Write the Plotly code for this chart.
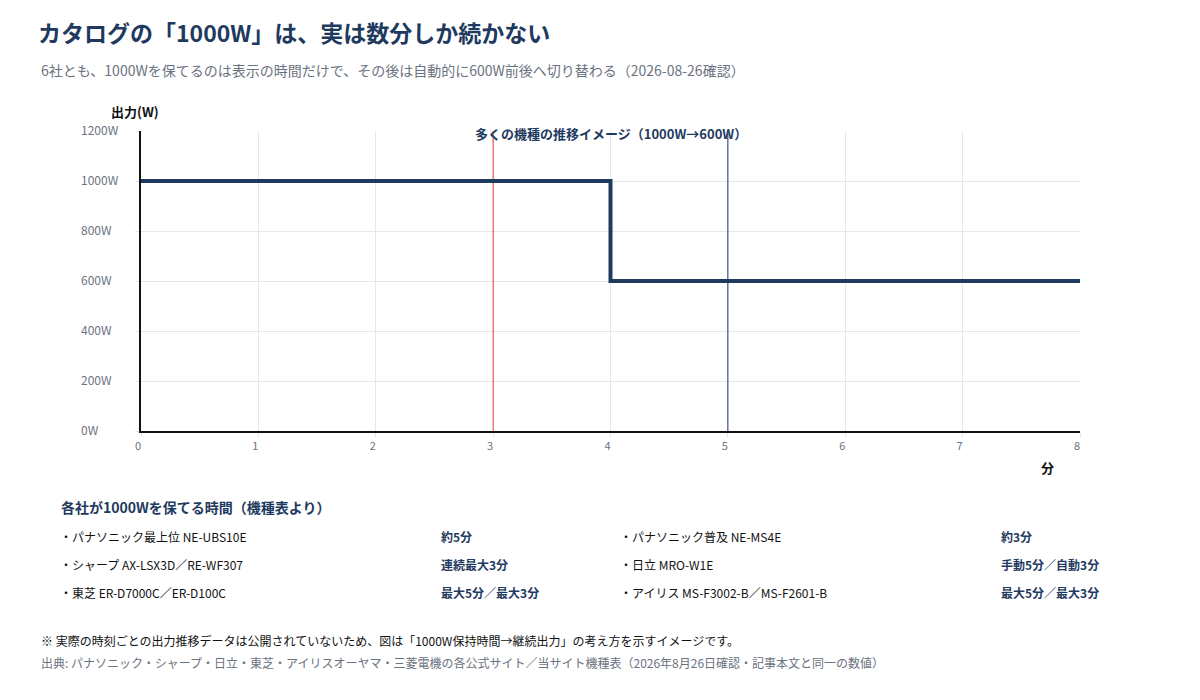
import plotly.graph_objects as go

minutes = [0, 4, 8]
watts = [1000, 600, 600]
marker_minutes = [3, 5]
marker_colors = ["#e5403a", "#1f3a5f"]
y_ticks = [0, 200, 400, 600, 800, 1000, 1200]
y_ticklabels = [f"{v}W" for v in y_ticks]
x_ticks = list(range(0, 9))

left_models = ["パナソニック最上位 NE-UBS10E", "シャープ AX-LSX3D／RE-WF307", "東芝 ER-D7000C／ER-D100C"]
left_times = ["約5分", "連続最大3分", "最大5分／最大3分"]
right_models = ["パナソニック普及 NE-MS4E", "日立 MRO-W1E", "アイリス MS-F3002-B／MS-F2601-B"]
right_times = ["約3分", "手動5分／自動3分", "最大5分／最大3分"]

FONT = "Noto Sans CJK JP"
NAVY = "#1f3a5f"
GREY = "#6b7280"

fig = go.Figure()
for m, c in zip(marker_minutes, marker_colors):
    fig.add_trace(go.Scatter(x=[m, m], y=[0, 1200], mode="lines",
                             line=dict(color=c, width=1), hoverinfo="skip", showlegend=False))
fig.add_trace(go.Scatter(x=minutes, y=watts, mode="lines", line_shape="hv",
                         line=dict(color=NAVY, width=4), showlegend=False))

fig.update_layout(
    width=1200, height=700,
    margin=dict(l=133, r=128, t=123, b=277),
    paper_bgcolor="white", plot_bgcolor="white",
    font=dict(family=FONT, size=12, color="#111"),
    showlegend=False,
)
fig.update_xaxes(range=[0, 8], tickvals=x_ticks, showgrid=True, gridcolor="#e5e7eb",
                 showline=True, linecolor="#111", linewidth=1.5, zeroline=False,
                 ticks="outside", ticklen=4, tickcolor="#e5e7eb", ticklabelshift=-3,
                 tickfont=dict(family=FONT, size=11, color=GREY))
fig.update_yaxes(range=[0, 1200], tickvals=y_ticks, showticklabels=False, showgrid=True,
                 gridcolor="#e5e7eb", showline=True, linecolor="#111", linewidth=1.5,
                 zeroline=False, ticks="outside", ticklen=4, tickcolor="#e5e7eb")

ann = []
def px(xp):
    return (xp - 141) / (1080 - 141)
def py(yp):
    return (431 - yp) / 300

def A(text, x, y, size, color, bold=False, xanchor="left", xref="paper", yref="paper"):
    if bold:
        text = f"<b>{text}</b>"
    ann.append(dict(text=text, x=x, y=y, xref=xref, yref=yref, xanchor=xanchor, yanchor="middle",
                    showarrow=False, font=dict(family=FONT, size=size, color=color)))

# left-aligned y tick labels placed via the y scale
for v, t in zip(y_ticks, y_ticklabels):
    ann.append(dict(text=t, x=px(79), y=v, xref="paper", yref="y", xanchor="left",
                    yanchor="middle", yshift=2, showarrow=False,
                    font=dict(family=FONT, size=12, color=GREY)))

A("カタログの「1000W」は、実は数分しか続かない", px(36), py(32), 23, NAVY, True)
A("6社とも、1000Wを保てるのは表示の時間だけで、その後は自動的に600W前後へ切り替わる（2026-08-26確認）", px(39), py(70), 14, GREY)
A("出力(W)", px(109), py(111), 13, "#111", True)
A("分", px(1039), py(467), 13, "#111", True)
ann.append(dict(text="<b>多くの機種の推移イメージ（1000W→600W）</b>", x=4, y=1200, xref="x", yref="y",
                xanchor="center", yanchor="middle", showarrow=False, yshift=-2,
                font=dict(family=FONT, size=13, color=NAVY)))
A("各社が1000Wを保てる時間（機種表より）", px(59), py(507), 14, NAVY, True)
rows_y = [536, 564, 592]
for i, yy in enumerate(rows_y):
    A("・" + left_models[i], px(58), py(yy), 12, "#111")
    A(left_times[i], px(439), py(yy), 12, NAVY, True)
    A("・" + right_models[i], px(618), py(yy), 12, "#111")
    A(right_times[i], px(999), py(yy), 12, NAVY, True)
A("※ 実際の時刻ごとの出力推移データは公開されていないため、図は「1000W保持時間→継続出力」の考え方を示すイメージです。", px(39), py(640), 12, "#111")
A("出典: パナソニック・シャープ・日立・東芝・アイリスオーヤマ・三菱電機の各公式サイト／当サイト機種表（2026年8月26日確認・記事本文と同一の数値）", px(39), py(662), 12, GREY)
fig.update_layout(annotations=ann)

fig.write_html("out.html")
